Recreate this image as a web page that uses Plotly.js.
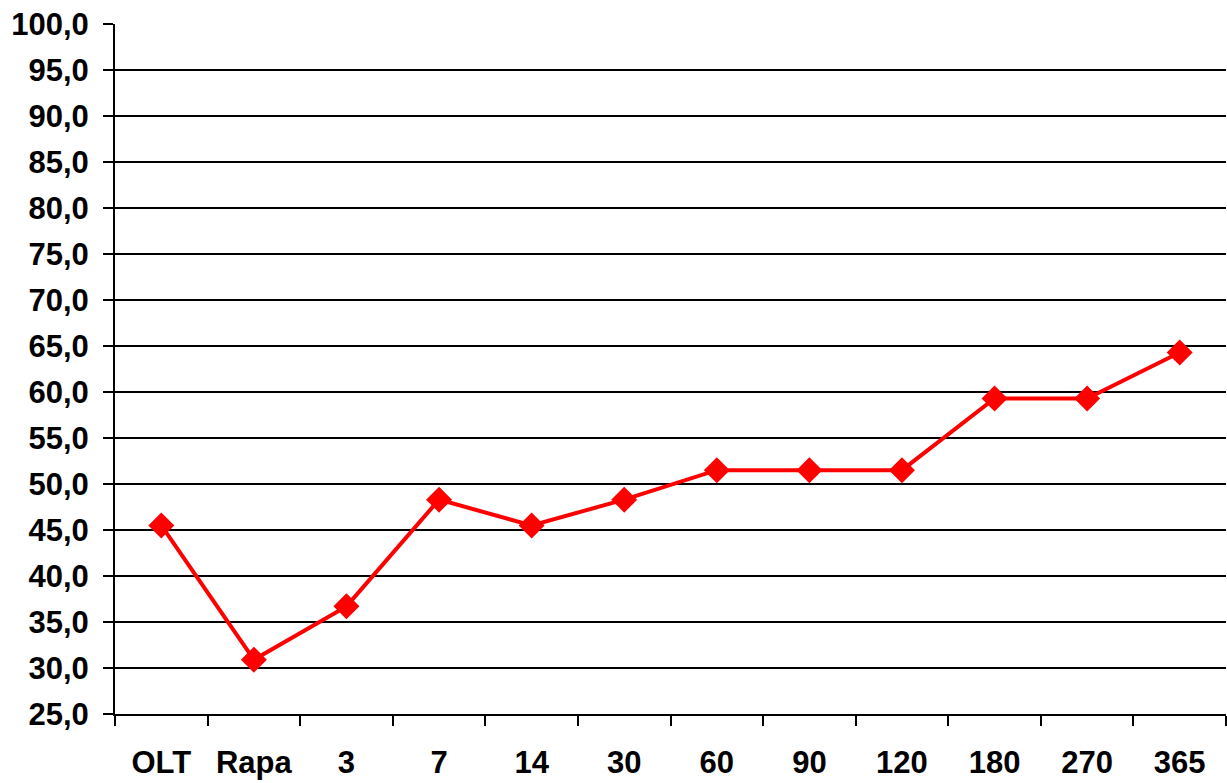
<!DOCTYPE html>
<html>
<head>
<meta charset="utf-8">
<script src="https://cdn.plot.ly/plotly-3.0.1.min.js"></script>
<style>
  html, body { margin: 0; padding: 0; background: #fff; }
  #chart { width: 1227px; height: 783px; }
</style>
</head>
<body>
<div id="chart"></div>
<script>
// Time points after transplantation and measured percentages
const categories = ["OLT", "Rapa", "3", "7", "14", "30", "60", "90", "120", "180", "270", "365"];
const values = [45.5, 30.9, 36.7, 48.3, 45.5, 48.3, 51.5, 51.5, 51.5, 59.3, 59.3, 64.3];

const trace = {
  x: categories,
  y: values,
  type: "scatter",
  mode: "lines+markers",
  line: { color: "#ff0000", width: 4 },
  marker: { symbol: "diamond", size: 20, color: "#ff0000" },
  cliponaxis: false,
  hoverinfo: "x+y"
};

const tickFont = { family: "Liberation Sans, Arial, sans-serif", size: 31, color: "#000", weight: "bold" };

const layout = {
  width: 1227,
  height: 783,
  margin: { l: 115, r: 1, t: 24, b: 69 },
  paper_bgcolor: "#ffffff",
  plot_bgcolor: "#ffffff",
  separators: ", ",
  showlegend: false,
  xaxis: {
    type: "category",
    range: [-0.5, categories.length - 0.5],
    tickson: "boundaries",
    ticks: "outside",
    ticklen: 10,
    tickwidth: 2,
    tickcolor: "#000",
    showline: true,
    linecolor: "#000",
    linewidth: 2,
    showgrid: false,
    zeroline: false,
    tickfont: tickFont,
    ticklabelstandoff: 20
  },
  yaxis: {
    range: [25, 100],
    dtick: 5,
    tick0: 25,
    tickformat: ".1f",
    ticks: "outside",
    ticklen: 10,
    tickwidth: 2,
    tickcolor: "#000",
    showline: true,
    linecolor: "#000",
    linewidth: 2,
    showgrid: true,
    gridcolor: "#000",
    gridwidth: 2,
    zeroline: false,
    tickfont: tickFont,
    ticklabelstandoff: 8
  }
};

Plotly.newPlot("chart", [trace], layout, { displayModeBar: false, staticPlot: true });
</script>
</body>
</html>
